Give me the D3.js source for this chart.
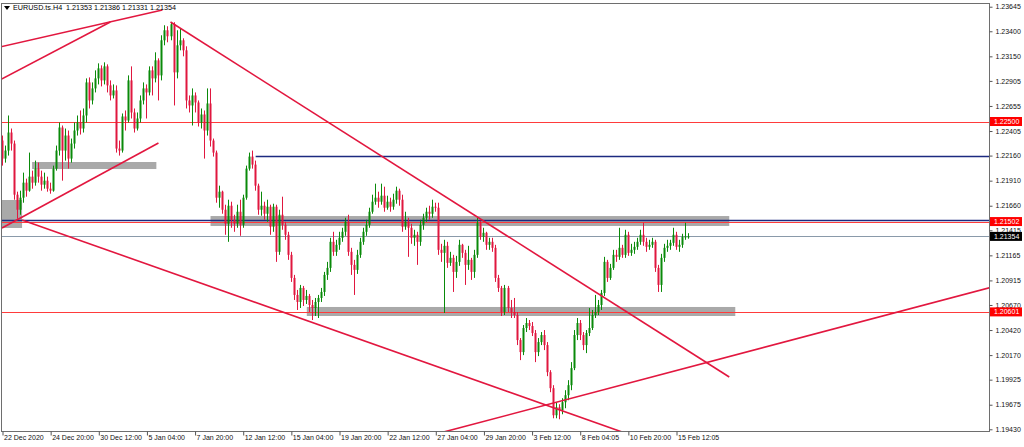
<!DOCTYPE html>
<html><head><meta charset="utf-8">
<script src="https://cdn.jsdelivr.net/npm/d3@7/dist/d3.min.js"></script>
<style>html,body{margin:0;padding:0;background:#fff;overflow:hidden}text{font-family:"Liberation Sans",Arial,sans-serif}</style>
</head><body><svg id="c" width="1024" height="447"></svg>
<script>
// ---- data (EURUSD H4) ----
const symbolTitle = "EURUSD.ts.H4";
const lastOHLC = [1.21353, 1.21386, 1.21331, 1.21354];
const firstOpen = 1.2231;
const closes = [
1.2213,1.2221,1.2239,1.2228,1.2177,1.2162,1.2174,1.2189,1.2181,1.2195,
1.2189,1.2203,1.2195,1.2187,1.2191,1.2183,1.2181,1.2203,1.2221,1.2244,
1.2221,1.2236,1.2213,1.2228,1.2241,1.2249,1.2243,1.2256,1.2289,1.2271,
1.2283,1.2293,1.2303,1.2291,1.2305,1.2286,1.2276,1.2281,1.2223,1.2221,
1.2255,1.2251,1.2291,1.2259,1.2243,1.2253,1.2271,1.2283,1.2279,1.2301,
1.2293,1.2311,1.2296,1.2331,1.2341,1.2335,1.2347,1.2299,1.2326,1.2331,
1.2321,1.2271,1.2266,1.2276,1.2269,1.2249,1.2257,1.2241,1.2268,1.2231,
1.2219,1.2174,1.2180,1.2162,1.2148,1.2166,1.2152,1.2148,1.2160,1.2147,
1.2174,1.2203,1.2215,1.2207,1.2186,1.2162,1.2166,1.2158,1.2165,1.2145,
1.2165,1.2120,1.2157,1.2147,1.2137,1.2117,1.2094,1.2077,1.2070,1.2084,
1.2072,1.2076,1.2067,1.2064,1.2070,1.2074,1.2080,1.2097,1.2104,1.2130,
1.2120,1.2127,1.2134,1.2140,1.2150,1.2120,1.2107,1.2102,1.2117,1.2130,
1.2140,1.2147,1.2160,1.2170,1.2174,1.2170,1.2176,1.2164,1.2170,1.2165,
1.2172,1.2181,1.2172,1.2145,1.2150,1.2144,1.2134,1.2137,1.2130,1.2147,
1.2154,1.2160,1.2158,1.2165,1.2164,1.2122,1.2119,1.2126,1.2109,1.2114,
1.2100,1.2110,1.2127,1.2119,1.2107,1.2112,1.2100,1.2117,1.2149,1.2135,
1.2139,1.2127,1.2130,1.2124,1.2094,1.2084,1.2060,1.2084,1.2064,1.2060,
1.2057,1.2032,1.2020,1.2044,1.2049,1.2046,1.2039,1.2020,1.2030,1.2037,
1.2027,1.2000,1.1984,1.1957,1.1965,1.1962,1.1970,1.1977,1.1987,1.2004,
1.2037,1.2049,1.2037,1.2027,1.2039,1.2044,1.2057,1.2060,1.2067,1.2079,
1.2110,1.2094,1.2104,1.2117,1.2115,1.2124,1.2117,1.2137,1.2119,1.2122,
1.2125,1.2130,1.2137,1.2130,1.2125,1.2127,1.2130,1.2104,1.2087,1.2114,
1.2124,1.2126,1.2129,1.2137,1.2125,1.2127,1.2135,1.21353,1.21354];
const highs = [
1.2236,1.2226,1.2256,1.2243,1.2231,1.2180,1.2181,1.2199,1.2193,1.2219,
1.2201,1.2211,1.2209,1.2201,1.2199,1.2195,1.2189,1.2206,1.2226,1.2249,
1.2246,1.2243,1.2241,1.2233,1.2249,1.2256,1.2261,1.2263,1.2293,1.2294,
1.2289,1.2301,1.2308,1.2306,1.2309,1.2307,1.2291,1.2287,1.2286,1.2231,
1.2258,1.2261,1.2296,1.2305,1.2263,1.2259,1.2276,1.2289,1.2287,1.2305,
1.2305,1.2319,1.2313,1.2336,1.2346,1.2345,1.2349,1.2349,1.2341,1.2343,
1.2333,1.2325,1.2276,1.2283,1.2279,1.2271,1.2263,1.2261,1.2283,1.2283,
1.2233,1.2221,1.2186,1.2181,1.2167,1.2172,1.2170,1.2157,1.2167,1.2172,
1.2177,1.2206,1.2219,1.2221,1.2211,1.2188,1.2180,1.2170,1.2172,1.2167,
1.2168,1.2167,1.2162,1.2175,1.2150,1.2140,1.2120,1.2097,1.2082,1.2087,
1.2086,1.2082,1.2078,1.2072,1.2074,1.2077,1.2084,1.2100,1.2110,1.2134,
1.2140,1.2132,1.2140,1.2144,1.2154,1.2157,1.2124,1.2112,1.2122,1.2134,
1.2144,1.2152,1.2164,1.2177,1.2188,1.2180,1.2188,1.2185,1.2176,1.2174,
1.2178,1.2185,1.2183,1.2177,1.2160,1.2154,1.2148,1.2142,1.2140,1.2152,
1.2158,1.2164,1.2166,1.2172,1.2169,1.2169,1.2128,1.2132,1.2130,1.2120,
1.2117,1.2116,1.2132,1.2128,1.2122,1.2126,1.2114,1.2122,1.2154,1.2151,
1.2144,1.2140,1.2134,1.2134,1.2127,1.2097,1.2086,1.2087,1.2086,1.2072,
1.2074,1.2060,1.2034,1.2047,1.2054,1.2052,1.2050,1.2042,1.2034,1.2040,
1.2042,1.2030,1.2002,1.1987,1.1970,1.1968,1.1974,1.1982,1.1992,1.2010,
1.2042,1.2054,1.2052,1.2040,1.2042,1.2064,1.2062,1.2077,1.2072,1.2082,
1.2115,1.2112,1.2108,1.2122,1.2122,1.2144,1.2127,1.2142,1.2140,1.2128,
1.2130,1.2134,1.2142,1.2149,1.2134,1.2132,1.2134,1.2132,1.2107,1.2118,
1.2128,1.2132,1.2132,1.2144,1.2140,1.2132,1.2138,1.2149,1.21386];
const lows = [
1.2206,1.2209,1.2216,1.2221,1.2172,1.2153,1.2157,1.2169,1.2175,1.2180,
1.2183,1.2186,1.2189,1.2181,1.2183,1.2180,1.2178,1.2180,1.2201,1.2216,
1.2191,1.2211,1.2203,1.2209,1.2223,1.2236,1.2237,1.2239,1.2249,1.2263,
1.2267,1.2279,1.2287,1.2285,1.2287,1.2279,1.2271,1.2273,1.2219,1.2216,
1.2219,1.2241,1.2249,1.2253,1.2239,1.2241,1.2249,1.2267,1.2253,1.2276,
1.2276,1.2289,1.2271,1.2291,1.2326,1.2329,1.2331,1.2266,1.2293,1.2321,
1.2315,1.2263,1.2259,1.2246,1.2259,1.2245,1.2243,1.2213,1.2236,1.2225,
1.2215,1.2169,1.2164,1.2158,1.2137,1.2130,1.2144,1.2140,1.2144,1.2136,
1.2144,1.2172,1.2201,1.2203,1.2181,1.2157,1.2156,1.2152,1.2150,1.2137,
1.2140,1.2110,1.2117,1.2142,1.2132,1.2112,1.2090,1.2072,1.2062,1.2064,
1.2066,1.2068,1.2060,1.2052,1.2056,1.2054,1.2070,1.2076,1.2092,1.2100,
1.2116,1.2116,1.2122,1.2130,1.2136,1.2116,1.2097,1.2077,1.2098,1.2114,
1.2127,1.2136,1.2144,1.2158,1.2167,1.2164,1.2167,1.2160,1.2162,1.2160,
1.2162,1.2168,1.2166,1.2140,1.2142,1.2115,1.2128,1.2126,1.2107,1.2126,
1.2142,1.2150,1.2152,1.2154,1.2160,1.2117,1.2110,1.2059,1.2104,1.2106,
1.2080,1.2094,1.2106,1.2114,1.2087,1.2102,1.2092,1.2094,1.2114,1.2132,
1.2130,1.2122,1.2122,1.2120,1.2090,1.2080,1.2056,1.2057,1.2060,1.2054,
1.2054,1.2027,1.2012,1.2017,1.2040,1.2042,1.2036,1.2010,1.2016,1.2027,
1.2022,1.1996,1.1980,1.1954,1.1954,1.1953,1.1958,1.1964,1.1972,1.1982,
1.2002,1.2032,1.2032,1.2022,1.2019,1.2036,1.2042,1.2054,1.2057,1.2062,
1.2076,1.2090,1.2092,1.2102,1.2110,1.2112,1.2114,1.2114,1.2116,1.2116,
1.2118,1.2122,1.2127,1.2126,1.2120,1.2122,1.2124,1.2100,1.2080,1.2080,
1.2110,1.2120,1.2122,1.2126,1.2122,1.2120,1.2124,1.2132,1.21331];

const xTickLabels = ["22 Dec 2020","24 Dec 20:00","30 Dec 12:00","5 Jan 04:00","7 Jan 20:00","12 Jan 12:00","15 Jan 04:00","19 Jan 20:00","22 Jan 12:00","27 Jan 04:00","29 Jan 20:00","3 Feb 12:00","8 Feb 04:05","10 Feb 20:00","15 Feb 12:05"];
const xTickBars = [0,16,32,48,64,80,96,112,128,144,160,176,192,208,224];
const yTickValues = [1.23645,1.23400,1.23150,1.22905,1.22655,1.22405,1.22160,1.21910,1.21660,1.21415,1.21165,1.20915,1.20670,1.20420,1.20170,1.19925,1.19675,1.19430];

// horizontal levels [price, startBar or null, kind]
const levelPrices = [1.22500, 1.20601, 1.21502, 1.21513, 1.22160, 1.21354];
const levelStart  = [null, null, null, null, 84.3, null];
const levelKinds  = ["red","red","red","navy","navy","bid"];
const tagPrices = [1.22500, 1.21502, 1.21354, 1.20601];
const tagKinds  = ["red","red","bid","red"];

// zones: [bar1, bar2, priceTop, priceBottom]
const zoneBars1 = [10, -1, 69.3, 101.3];
const zoneBars2 = [51.3, 6.67, 241.7, 243.7];
const zoneTop   = [1.22096, 1.21717, 1.21557, 1.20650];
const zoneBot   = [1.22026, 1.21438, 1.21458, 1.20560];

// trend lines: [bar1, price1, bar2, price2]
const tlBar1 = [-0.7, -0.7, 0, 6.67, 56, 146];
const tlP1   = [1.23243, 1.22914, 1.21438, 1.21518, 1.23492, 1.19397];
const tlBar2 = [53.3, 36, 52, 212.7, 241.7, 332.7];
const tlP2   = [1.23612, 1.23492, 1.22286, 1.19333, 1.19952, 1.20877];

// ---- drawing ----
const svg = d3.select("#c");
const L = 1, T = 3, R = 989, B = 431;
const x = d3.scaleLinear().domain([0, 224]).range([2, 676]);
const y = d3.scaleLinear().domain([1.19413, 1.23682]).range([B, T]);

svg.append("rect").attr("width",1024).attr("height",447).attr("fill","#fff");
svg.append("defs").append("clipPath").attr("id","plot")
  .append("rect").attr("x",L).attr("y",T).attr("width",R-L).attr("height",B-T);
const g = svg.append("g").attr("clip-path","url(#plot)");

// zones
g.selectAll("rect.zone").data(zoneBars1).join("rect").attr("class","zone")
  .attr("x",(d,i)=>x(d)).attr("width",(d,i)=>x(zoneBars2[i])-x(d))
  .attr("y",(d,i)=>y(zoneTop[i])).attr("height",(d,i)=>y(zoneBot[i])-y(zoneTop[i]))
  .attr("fill","#a9a9a9");

// levels
const levColor = {red:"#ff3b3b", navy:"#1c2a80", bid:"#8a9aaa"};
g.selectAll("line.lev").data(levelPrices).join("line").attr("class","lev")
  .attr("x1",(d,i)=>levelStart[i]==null?L:x(levelStart[i])).attr("x2",R)
  .attr("y1",d=>Math.round(y(d))+0.5).attr("y2",d=>Math.round(y(d))+0.5)
  .attr("stroke",(d,i)=>levColor[levelKinds[i]])
  .attr("stroke-width",(d,i)=>levelKinds[i]==="navy"?1.4:1);

// candles
const bars = closes.map((c,i)=>{
  const o = i===0?firstOpen:closes[i-1];
  return {i,o,c,h:Math.max(highs[i],o,c),l:Math.min(lows[i],o,c)};
});
const up = "#0a8a0a", dn = "#e0173f";
const cg = g.append("g");
cg.selectAll("line.w").data(bars).join("line").attr("class","w")
  .attr("x1",d=>Math.round(x(d.i))+0.5).attr("x2",d=>Math.round(x(d.i))+0.5)
  .attr("y1",d=>y(d.h)).attr("y2",d=>y(d.l))
  .attr("stroke",d=>d.c>=d.o?up:dn).attr("stroke-width",1);
cg.selectAll("rect.b").data(bars).join("rect").attr("class","b")
  .attr("x",d=>Math.round(x(d.i))-0.5).attr("width",2)
  .attr("y",d=>y(Math.max(d.o,d.c)))
  .attr("height",d=>Math.max(1,Math.abs(y(d.o)-y(d.c))))
  .attr("fill",d=>d.c>=d.o?up:dn);

// trend lines
g.selectAll("line.tl").data(tlBar1).join("line").attr("class","tl")
  .attr("x1",d=>x(d)).attr("y1",(d,i)=>y(tlP1[i]))
  .attr("x2",(d,i)=>x(tlBar2[i])).attr("y2",(d,i)=>y(tlP2[i]))
  .attr("stroke","#e2173f").attr("stroke-width",1.6);

// frame
svg.append("rect").attr("x",L+0.5).attr("y",T+0.5).attr("width",R-L).attr("height",B-T)
  .attr("fill","none").attr("stroke","#6e6e6e").attr("stroke-width",1);

// y axis
const ya = svg.append("g").attr("transform",`translate(${R+0.5},0)`)
  .call(d3.axisRight(y).tickValues(yTickValues).tickSize(3).tickPadding(3).tickFormat(d3.format(".5f")));
ya.select(".domain").remove();
ya.selectAll("line").attr("stroke","#555");
ya.selectAll("text").attr("font-size",7).attr("fill","#111").attr("font-family","Liberation Sans, Arial");

// x axis
const xa = svg.append("g").attr("transform",`translate(0.5,${B+0.5})`)
  .call(d3.axisBottom(x).tickValues(xTickBars).tickSize(4).tickPadding(0).tickFormat((d,i)=>xTickLabels[i]));
xa.select(".domain").remove();
xa.selectAll("line").attr("stroke","#555");
xa.selectAll("text").attr("font-size",7).attr("fill","#111").attr("text-anchor","start").attr("dx",1)
  .attr("font-family","Liberation Sans, Arial");

// price tags
const tagBg = {red:"#ff0000", bid:"#000000"};
const tg = svg.append("g");
tg.selectAll("rect").data(tagPrices).join("rect")
  .attr("x",R+1).attr("width",32).attr("y",d=>y(d)-4.5).attr("height",9)
  .attr("fill",(d,i)=>tagBg[tagKinds[i]]);
tg.selectAll("text").data(tagPrices).join("text")
  .attr("x",R+5).attr("y",d=>y(d)+2.5).attr("font-size",7).attr("fill","#fff")
  .text(d=>d3.format(".5f")(d));

// title
svg.append("path").attr("d","M4,6 L10,6 L7,10 Z").attr("fill","#000");
svg.append("text").attr("x",13).attr("y",10).attr("font-size",7.2).attr("fill","#000")
  .attr("xml:space","preserve")
  .text(symbolTitle + "  " + lastOHLC.map(d3.format(".5f")).join(" "));
</script></body></html>
